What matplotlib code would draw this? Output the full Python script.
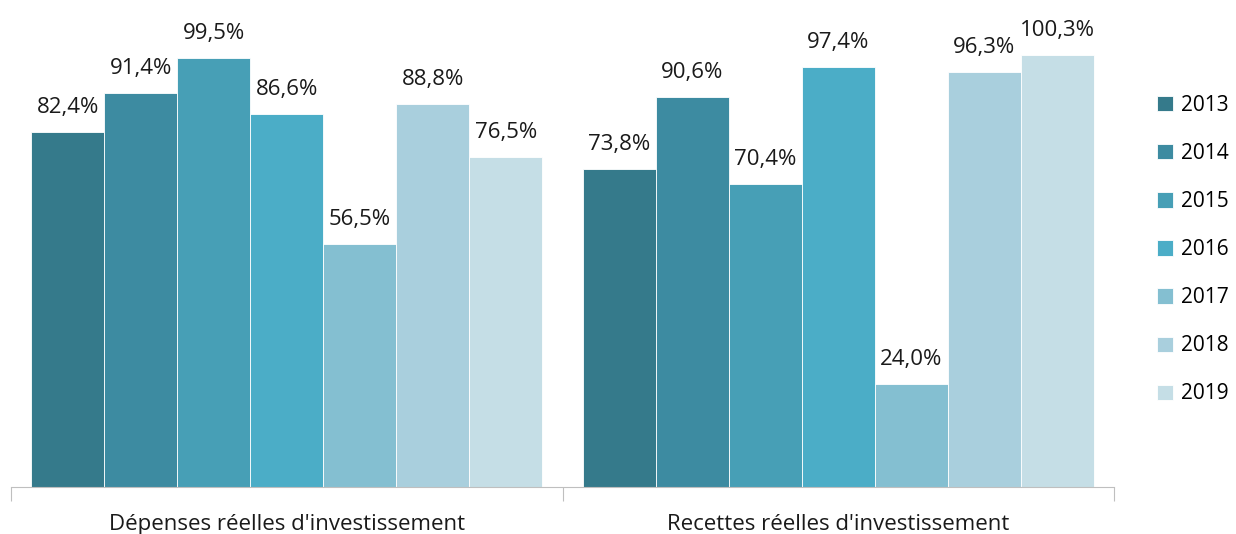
import numpy as np
import matplotlib
matplotlib.use("Agg")
import matplotlib.pyplot as plt

categories = ["Dépenses réelles d'investissement", "Recettes réelles d'investissement"]
years = ["2013", "2014", "2015", "2016", "2017", "2018", "2019"]
depenses = [82.4, 91.4, 99.5, 86.6, 56.5, 88.8, 76.5]
recettes = [73.8, 90.6, 70.4, 97.4, 24.0, 96.3, 100.3]
colors = ["#357a8b", "#3d8ba1", "#479fb6", "#4badc7", "#84bfd1", "#a9cfdd", "#c5dee6"]

W, H = 1236, 534
fig = plt.figure(figsize=(W / 100, H / 100), dpi=100)
# axes placed in pixel terms: x 11..1114, baseline at y=487
ax = fig.add_axes([11 / W, (H - 487) / H, (1114 - 11) / W, (487 - 13) / H])

values = np.array([depenses, recettes])
n = len(years)
bw = 0.927 / n
x = np.arange(len(categories))
for i, yr in enumerate(years):
    pos = x - 0.927 / 2 + bw * (i + 0.5)
    ax.bar(pos, values[:, i], width=bw, color=colors[i], edgecolor="white",
           linewidth=0.6, label=yr)
    for px, v in zip(pos, values[:, i]):
        ax.annotate(f"{v:.1f}%".replace(".", ","), (px, v), xytext=(0, 10),
                    textcoords="offset points", ha="center", va="bottom",
                    fontsize=16, color="#1a1a1a", family="Open Sans")

ax.set_xlim(-0.5, 1.5)
ax.set_ylim(0, 110)
ax.set_yticks([])
for s in ["top", "right", "left"]:
    ax.spines[s].set_visible(False)
ax.spines["bottom"].set_color("#bfbfbf")
ax.set_xticks([-0.5, 0.5, 1.5], minor=False)
ax.set_xticklabels([])
ax.tick_params(axis="x", length=10, color="#bfbfbf", direction="out")
for cx, cat in zip(x, categories):
    ax.text(cx, -0.08, cat, transform=ax.get_xaxis_transform(), ha="center",
            va="center", fontsize=16, color="#1a1a1a", family="Open Sans")

handles, labels = ax.get_legend_handles_labels()
fig.legend(handles, labels, loc="upper left", bbox_to_anchor=(1157 / W, 1 - 95 / H),
           frameon=False, borderpad=0, borderaxespad=0, handlelength=0.75,
           handleheight=0.75, labelspacing=1.3, handletextpad=0.4,
           prop={"family": "Open Sans", "size": 15})

fig.savefig("out.png", dpi=100)
